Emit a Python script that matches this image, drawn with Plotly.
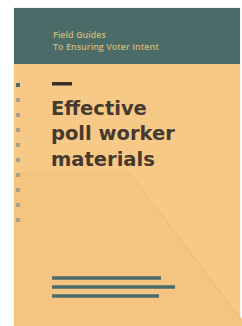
import plotly.graph_objects as go

# ---- content ----
series_label = ["Field Guides", "To Ensuring Voter Intent"]
title_lines = ["Effective", "poll worker", "materials"]
bar_lengths = [109, 123, 107]          # decorative text-lines at bottom (px)
bar_rows = [278, 287, 296]
dot_rows = [85, 100, 115, 130, 145, 160, 175, 190, 205, 220]
dot_active = [1, 0, 0, 0, 0, 0, 0, 0, 0, 0]

W, H = 242, 326
TEAL = "#4a6b68"
ORANGE = "#f6c987"
ORANGE_DARK = "#f4c480"

fig = go.Figure()
shapes = []
# cover shadow
shapes.append(dict(type="rect", x0=13, x1=241, y0=7, y1=H + 2, fillcolor="rgba(0,0,0,0.05)", line_width=0, layer="below"))
# body
shapes.append(dict(type="rect", x0=14, x1=240, y0=8, y1=H + 2, fillcolor=ORANGE, line_width=0, layer="below"))
# slightly darker lower-left region
shapes.append(dict(type="path", path="M 14,172 L 129,172 L 243,320 L 243,328 L 14,328 Z",
                   fillcolor=ORANGE_DARK, line_width=0, layer="below"))
shapes.append(dict(type="line", x0=129, y0=172, x1=240, y1=318,
                   line=dict(color="rgba(215,160,95,0.3)", width=1), layer="below"))
# header
shapes.append(dict(type="rect", x0=14, x1=240, y0=8, y1=64, fillcolor=TEAL, line_width=0))
# dash
shapes.append(dict(type="rect", x0=52, x1=72, y0=82, y1=85.5, fillcolor="#3a2e26", line_width=0))
# dots
for r, a in zip(dot_rows, dot_active):
    shapes.append(dict(type="rect", x0=16, x1=20, y0=r - 2, y1=r + 2,
                       fillcolor=TEAL if a else "#a9a08e", line_width=0))
# bottom bars
for r, L in zip(bar_rows, bar_lengths):
    shapes.append(dict(type="rect", x0=52, x1=52 + L, y0=r - 1.7, y1=r + 1.7, fillcolor=TEAL, line_width=0))

annotations = []
annotations.append(dict(x=51, y=40, text="<br>".join(series_label), showarrow=False,
                        xanchor="left", yanchor="middle", align="left",
                        font=dict(family="Open Sans", size=9, color="#cdb877", weight=600)))
annotations.append(dict(x=49, y=95, text="<br>".join(title_lines), showarrow=False,
                        xanchor="left", yanchor="top", align="left",
                        font=dict(family="DejaVu Sans", size=19.5, color="#46392f", weight="bold")))

fig.update_layout(width=W, height=H, margin=dict(l=0, r=0, t=0, b=0),
                  paper_bgcolor="white", plot_bgcolor="white",
                  xaxis=dict(range=[0, W], visible=False, fixedrange=True),
                  yaxis=dict(range=[H, 0], visible=False, fixedrange=True),
                  shapes=shapes, annotations=annotations, showlegend=False)
fig.write_html("out.html", config={"displayModeBar": False},
               post_script="document.body.style.margin='0';")
